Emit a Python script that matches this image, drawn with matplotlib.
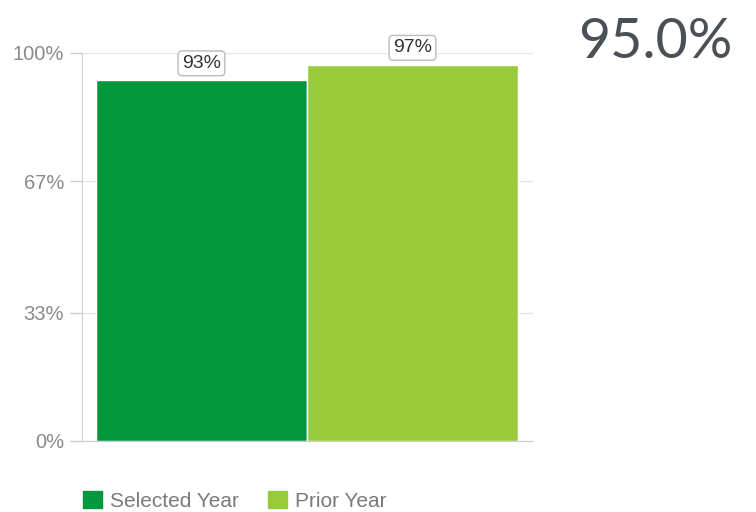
import matplotlib.pyplot as plt
from matplotlib.patches import Patch

# values
series = ['Selected Year', 'Prior Year']
values = [93, 97]
colors = ['#00973d', '#98cb3b']
yticks = [0, 33, 67, 100]
ytick_labels = ['0%', '33%', '67%', '100%']
headline = '95.0%'

plt.rcParams['font.family'] = ['Liberation Sans', 'DejaVu Sans']

fig = plt.figure(figsize=(7.56, 5.12), dpi=100)
ax = fig.add_axes([82 / 756, 1 - 441 / 512, (533 - 82) / 756, (441 - 53) / 512])

xs = list(range(len(values)))
bars = ax.bar(xs, values, width=1.0, color=colors, edgecolor='white', linewidth=1.0)

ax.set_xlim(-0.566, 1.571)
ax.set_ylim(0, 100)
ax.set_yticks(yticks)
ax.set_yticklabels(ytick_labels)
ax.set_xticks([])
ax.grid(axis='y', color='#e6e6e6', linewidth=1)
ax.set_axisbelow(True)
ax.tick_params(axis='y', length=9, color='#cccccc', width=1, pad=4,
               labelsize=14.5, labelcolor='#8a8a8a')
for side in ['top', 'right']:
    ax.spines[side].set_visible(False)
ax.spines['left'].set_color('#cccccc')
ax.spines['bottom'].set_color('#cccccc')

# value labels in boxes above the bars
for b, v in zip(bars, values):
    ax.annotate(f'{v}%', (b.get_x() + b.get_width() / 2, v), xytext=(0, 6),
                textcoords='offset points', ha='center', va='bottom',
                fontsize=14, color='#333333',
                bbox=dict(boxstyle='round,pad=0.2,rounding_size=0.2',
                          fc='white', ec='#bbbbbb', lw=1))

# headline figure
fig.text(655 / 756, 1 - 42 / 512, headline, ha='center', va='center',
         fontsize=40, color='#4a5057', family=['Lato', 'DejaVu Sans'])

handles = [Patch(facecolor=c, edgecolor=c) for c in colors]
fig.legend(handles, series, loc='center left', bbox_to_anchor=(64 / 756, 1 - 501 / 512),
           ncol=2, frameon=False, fontsize=15, labelcolor='#7a7a7a',
           handlelength=0.9, handleheight=0.9, handletextpad=0.4, columnspacing=1.4)

fig.savefig('out.png', dpi=100)
